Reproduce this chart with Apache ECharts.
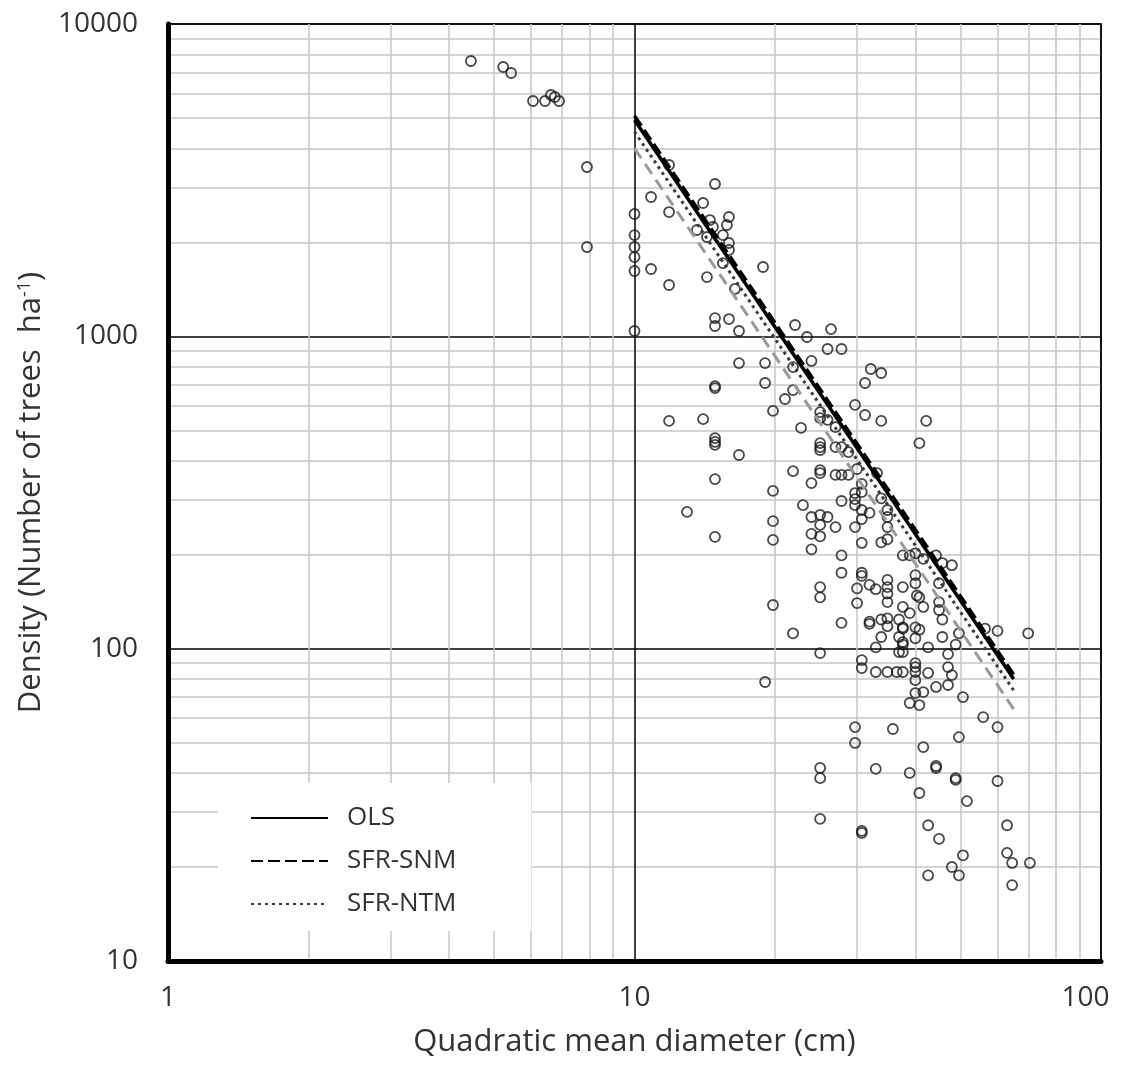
<!DOCTYPE html>
<html>
<head>
<meta charset="utf-8">
<script src="https://cdn.jsdelivr.net/npm/echarts@6/dist/echarts.min.js"></script>
<style>
    html, body { margin: 0; padding: 0; background: #fff; }
    #chart { width: 1132px; height: 1071px; }
</style>
</head>
<body>
<div id="chart"></div>
<script>
// observed plots: quadratic mean diameter (cm) and density (trees/ha)
const qmd = [
    4.46, 5.23, 5.44, 6.06, 6.43, 6.62, 6.75, 6.89, 7.91, 7.91,
    10, 10, 10, 10, 10, 10, 10.85, 10.85, 11.86, 11.86,
    11.86, 11.86, 14.03, 14.03, 14.88, 14.51, 13.61, 14.73, 14.3, 14.3,
    14.88, 14.88, 15.94, 15.78, 15.47, 15.94, 15.94, 15.47, 16.42, 18.86,
    15.94, 16.75, 14.88, 14.88, 14.88, 14.88, 14.88, 16.75, 19.05, 19.05,
    16.75, 14.88, 14.88, 12.96, 22.09, 23.43, 26.38, 25.93, 27.78, 23.95,
    21.87, 31.2, 21.87, 21.02, 29.7, 19.81, 25, 25, 25.93, 26.97,
    31.2, 22.75, 25, 25, 25, 26.97, 27.78, 28.75, 32.1, 33.8,
    33.8, 42.2, 40.8, 21.87, 25, 25, 26.97, 28.75, 30, 23.95,
    30.7, 30.7, 29.7, 29.7, 29.7, 30.7, 27.78, 31.9, 33.8, 34.85,
    34.85, 22.97, 23.95, 25, 25.93, 25, 26.97, 29.7, 30.7, 34.85,
    23.95, 25, 30.7, 33.8, 34.85, 19.81, 19.81, 19.81, 27.78, 33.1,
    23.95, 27.78, 37.6, 38.9, 40, 41.6, 44.3, 45.7, 47.9, 27.78,
    30.7, 30.7, 31.9, 32.9, 34.85, 34.85, 34.85, 34.85, 37.6, 40,
    40, 40.3, 44.96, 40.8, 25, 25, 30, 30, 19.81, 27.78,
    31.9, 31.9, 33.8, 34.85, 34.85, 37.6, 38.9, 41.6, 44.96, 44.96,
    36.9, 37.6, 37.6, 40, 40.8, 45.7, 21.87, 33.8, 36.9, 37.6,
    37.6, 40, 45.7, 49.6, 48.8, 56.4, 60, 69.8, 32.9, 42.6,
    36.9, 37.6, 47, 25, 30.7, 30.7, 32.9, 34.85, 36.5, 37.6,
    40, 40, 40, 47, 47.9, 42.6, 40, 47, 44.3, 41.6,
    40, 50.6, 19.05, 38.9, 40.8, 55.9, 60, 35.8, 49.6, 41.6,
    44.3, 44.3, 32.9, 38.9, 48.8, 48.8, 60, 40.8, 51.6, 30.7,
    30.7, 42.6, 62.9, 44.96, 50.6, 62.9, 64.5, 70.4, 47.9, 49.6,
    42.6, 64.5, 29.7, 29.7, 25, 25, 25
]
const density = [
    7612, 7284, 6968, 5668, 5668, 5925, 5838, 5668, 3484, 1932,
    2464, 2110, 1932, 1794, 1619, 1040, 2793, 1643, 3536, 2500,
    1460, 536, 2672, 543, 3074, 2357, 2190, 2239, 2080, 1548,
    1144, 1079, 2410, 2272, 2110, 1990, 1890, 1716, 1418, 1667,
    1136, 1040, 693, 683, 472, 459, 449, 821, 821, 709,
    417, 349, 228, 274, 1087, 995, 1055, 911, 911, 834,
    797, 709, 673, 630, 603, 577, 572, 547, 540, 512,
    560, 509, 455, 442, 432, 442, 442, 426, 786, 763,
    536, 536, 455, 370, 373, 365, 360, 360, 376, 339,
    337, 317, 315, 301, 288, 278, 297, 272, 303, 278,
    264, 288, 264, 268, 264, 249, 245, 245, 260, 245,
    233, 229, 218, 219, 224, 320, 256, 223, 360, 365,
    208, 199, 199, 199, 202, 194, 199, 188, 185, 175,
    175, 171, 160, 155, 166, 157.5, 150, 141, 157.5, 172,
    162, 148, 162, 146, 157.5, 146, 156, 140, 138, 121,
    122, 120, 124, 125, 118, 136, 130, 136, 141, 133,
    124, 117, 116, 117, 115, 124, 112, 109, 109, 105,
    103, 108, 109, 112, 103, 116, 114, 112, 101, 101,
    97.5, 97.5, 96.1, 96.8, 91.9, 86.7, 84.2, 84.2, 84.2, 84.2,
    89.9, 87.3, 84.2, 87.3, 82.3, 83.6, 79.3, 76.5, 75.4, 72.6,
    72.1, 70, 78.2, 67, 66, 60.4, 56.1, 55.3, 52.1, 48.4,
    42.1, 41.5, 41.2, 40, 38.5, 38, 37.7, 34.5, 32.5, 26.1,
    25.7, 27.2, 27.2, 24.6, 21.8, 22.2, 20.6, 20.6, 20, 18.8,
    18.8, 17.5, 56.1, 49.9, 41.5, 38.5, 28.5
]

// fitted lines (end points)
const fitX = [10, 65]
const olsY = [4930, 80]
const snmY = [5080, 82.5]
const ntmY = [4520, 73.5]
const grayY = [4000, 64]

const seriesNames = ['OLS', 'SFR-SNM', 'SFR-NTM']

const xTickLabels = ['1', '10', '100']
const yTickLabels = ['10', '100', '1000', '10000']

const FONT = 'Open Sans'

function zip(xs, ys) {
    return xs.map((x, i) => [x, ys[i]])
}

const chart = echarts.init(document.getElementById('chart'))

chart.setOption({
    animation: false,
    backgroundColor: '#fff',
    textStyle: { fontFamily: FONT },
    grid: {
        left: 168,
        right: 31,
        top: 24,
        bottom: 110,
        show: true,
        backgroundColor: '#fff',
        borderColor: '#444',
        borderWidth: 2
    },
    legend: {
        data: seriesNames,
        orient: 'vertical',
        left: 218,
        top: 783,
        padding: [22, 75, 14, 32],
        itemWidth: 77,
        itemHeight: 14,
        itemGap: 17,
        selectedMode: false,
        backgroundColor: '#fff',
        itemStyle: { opacity: 0 },
        textStyle: {
            fontFamily: FONT,
            fontSize: 26,
            color: '#333',
            padding: [0, 0, 0, 14]
        }
    },
    xAxis: {
        type: 'log',
        logBase: 10,
        min: 1,
        max: 100,
        name: 'Quadratic mean diameter (cm)',
        nameLocation: 'middle',
        nameGap: 66,
        nameTextStyle: { fontFamily: FONT, fontSize: 31, color: '#333' },
        axisLine: { show: true, onZero: false, lineStyle: { color: '#000', width: 5 } },
        axisTick: { show: false },
        axisLabel: {
            margin: 23,
            fontFamily: FONT,
            fontSize: 28,
            color: '#333',
            formatter: v => {
                const t = xTickLabels.find(s => Number(s) === Math.round(v)) || ''
                // last label sits a little inside the plot edge, as in the figure
                return t === '100' ? '{last|' + t + '}' : t
            },
            rich: {
                last: { fontFamily: FONT, fontSize: 28, color: '#333', padding: [0, 31, 0, 0] }
            }
        },
        splitLine: { show: true, lineStyle: { color: '#000', width: 1.5 } },
        minorTick: { show: false, splitNumber: 9 },
        minorSplitLine: { show: true, lineStyle: { color: '#c6c6c6', width: 1.5 } }
    },
    yAxis: {
        type: 'log',
        logBase: 10,
        min: 10,
        max: 10000,
        name: 'Density (Number of trees  ha{sup|-1})',
        nameLocation: 'middle',
        nameGap: 120,
        nameRotate: 90,
        nameTextStyle: {
            fontFamily: FONT,
            fontSize: 31,
            color: '#333',
            rich: {
                sup: { fontFamily: FONT, fontSize: 18, color: '#333', verticalAlign: 'top', padding: [0, 0, 14, 0] }
            }
        },
        axisLine: { show: true, onZero: false, lineStyle: { color: '#000', width: 5 } },
        axisTick: { show: false },
        axisLabel: {
            margin: 30,
            fontFamily: FONT,
            fontSize: 28,
            color: '#333',
            formatter: v => yTickLabels.find(t => Number(t) === Math.round(v)) || ''
        },
        splitLine: { show: true, lineStyle: { color: '#000', width: 1.5 } },
        minorTick: { show: false, splitNumber: 9 },
        minorSplitLine: { show: true, lineStyle: { color: '#c6c6c6', width: 1.5 } }
    },
    series: [
        {
            name: 'plots',
            type: 'scatter',
            symbol: 'circle',
            symbolSize: 10,
            itemStyle: {
                color: 'rgba(255,255,255,0)',
                borderColor: '#1a1a1a',
                borderWidth: 1.8
            },
            data: zip(qmd, density)
        },
        {
            name: 'gray',
            type: 'line',
            symbol: 'none',
            lineStyle: { color: '#9a9a9a', width: 3, type: [12, 7] },
            data: zip(fitX, grayY)
        },
        {
            name: 'SFR-NTM',
            type: 'line',
            symbol: 'none',
            itemStyle: { color: '#3a3a3a' },
            lineStyle: { color: '#3a3a3a', width: 3, type: [3, 4] },
            data: zip(fitX, ntmY)
        },
        {
            name: 'SFR-SNM',
            type: 'line',
            symbol: 'none',
            itemStyle: { color: '#000' },
            lineStyle: { color: '#000', width: 3.5, type: [12, 5] },
            data: zip(fitX, snmY)
        },
        {
            name: 'OLS',
            type: 'line',
            symbol: 'none',
            itemStyle: { color: '#000' },
            lineStyle: { color: '#000', width: 3.5 },
            data: zip(fitX, olsY)
        }
    ]
})
</script>
</body>
</html>
